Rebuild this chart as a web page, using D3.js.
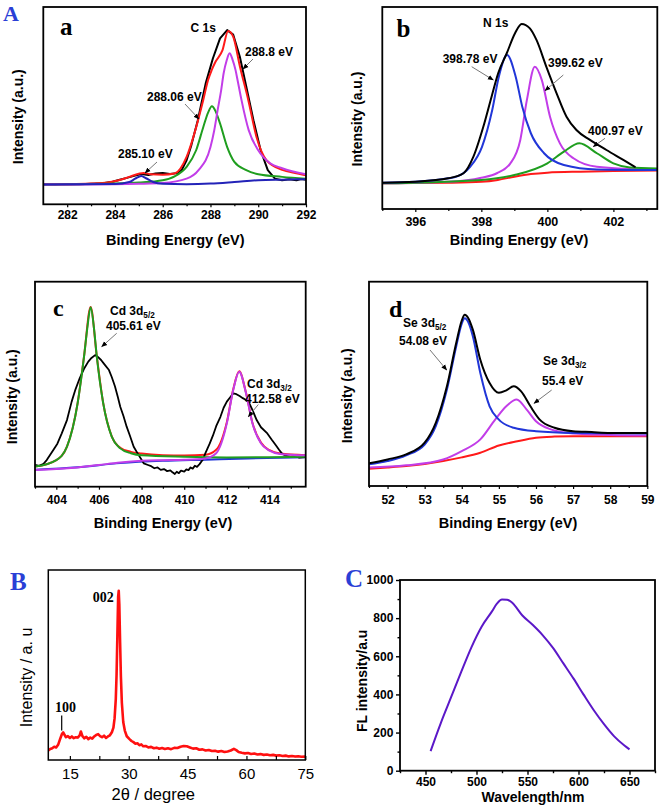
<!DOCTYPE html>
<html><head><meta charset="utf-8">
<script src="https://cdn.jsdelivr.net/npm/d3@7"></script>
<style>body{margin:0;background:#fff}</style>
</head><body>
<svg id="fig" width="661" height="807"></svg>
<script>
// ---------------- DATA ----------------
// Panel a: C 1s
const aBlack = [[281,10.2],[281.5,10.0],[282,10.3],[282.5,10.1],[283,10.4],[283.5,10.7],[283.9,11.4],[284.2,12.4],[284.5,13.4],[284.8,14.4],[285.1,15.4],[285.4,14.9],[285.7,15.6],[286.0,15.9],[286.3,15.4],[286.6,15.8],[286.8,17.5],[287.0,22.3],[287.2,30],[287.47,42.6],[287.8,61.3],[288.1,73.9],[288.4,84.1],[288.7,88.3],[288.95,86],[289.23,74.8],[289.5,59.6],[289.8,42.6],[290.1,27.4],[290.4,17.3],[290.7,13],[291,12.2],[291.3,12.7],[291.6,12.2],[291.8,12.8],[292,12.5]];
const aRed = [[281,10.1],[282,10.2],[283,10.5],[283.7,11.0],[284.2,12.3],[284.6,13.9],[285.0,15.5],[285.2,15.9],[285.5,15.2],[286,15.0],[286.5,15.6],[287,24],[287.4,39],[287.7,53],[287.9,63],[288.05,68],[288.2,72],[288.5,78],[288.74,87.8],[288.95,85],[289.23,70],[289.58,53],[289.93,34],[290.35,22.3],[291.04,17.3],[291.5,16],[292,14.7]];
const aPurple = [[281,10],[284,10.2],[285,10.4],[286,10.8],[287,13],[287.5,17.3],[288,29],[288.15,37],[288.3,47.7],[288.45,58],[288.55,66.3],[288.68,73],[288.8,76.5],[288.92,73.5],[289.05,68],[289.15,62],[289.3,52.8],[289.6,37.6],[290,27.4],[290.5,20.8],[291,18.3],[292,15.2]];
const aGreen = [[281,10],[284,10.5],[285,11],[286,12.2],[286.5,14.2],[287,19],[287.4,27.4],[287.7,39.2],[287.9,46.5],[288.06,49.7],[288.22,47],[288.4,41],[288.7,29],[289,21.5],[289.5,17.3],[290,15.2],[291,13.9],[292,13]];
const aBlue = [[281,10],[284,10.3],[284.6,11.3],[284.85,13],[285.1,14.4],[285.3,13.2],[285.6,11.3],[286,10.4],[287,10.2],[288,10.5],[289,11.3],[290,12.2],[291,12.5],[292,12.7]];
const aTicks = [282,284,286,288,290,292];
const aMinor = [283,285,287,289,291];

// Panel b: N 1s
const bBlack = [[395,13],[396,13.5],[397,15.2],[397.46,17.7],[397.76,25.9],[398.06,40.7],[398.31,55.6],[398.51,67.2],[398.77,77.1],[399.02,87],[399.22,91.6],[399.47,89.4],[399.67,83.7],[399.97,70.4],[400.28,57.3],[400.58,45.7],[400.88,39.1],[401.29,34.2],[401.79,29.2],[402.3,24.3],[402.65,20.9]];
const bBlue = [[395,13],[396,13.5],[397,15.2],[397.25,16],[397.66,20.9],[398.02,30.8],[398.33,49],[398.53,65.5],[398.78,76.2],[399.04,65.5],[399.24,50.6],[399.5,37.5],[399.9,27.6],[400.5,21.8],[401.5,19.6],[403.33,19.3]];
const bMagenta = [[395,12.7],[397,13.5],[398,15.5],[398.47,17.7],[398.88,22.6],[399.18,34.2],[399.38,54],[399.62,70.4],[399.83,63.9],[400.08,45.7],[400.38,32.5],[400.79,25.1],[401.5,20.9],[403.33,19.3]];
const bGreen = [[395,12.7],[398,14.4],[399,16.8],[400,22.6],[400.5,28.4],[400.97,32.5],[401.5,27.6],[402,22.6],[402.5,20.6],[403.33,20.1]];
const bRed = [[395,12.7],[397,13],[398,13.5],[398.5,14.4],[399,16],[399.5,17.3],[400,18],[401,18.5],[402,18.8],[403.33,19]];
const bTicks = [396,398,400,402];
const bMinor = [395,397,399,401,403];

// Panel c: Cd 3d
const cBlack = [[403,10.6],[403.2,10.2],[403.4,11.2],[403.55,13],[403.86,17.9],[404.05,21],[404.25,25.9],[404.5,32.5],[404.72,41.5],[404.9,47.5],[405.1,53],[405.3,57.5],[405.5,61],[405.65,62.8],[405.82,64.2],[405.95,63.3],[406.1,61.8],[406.25,59.8],[406.47,56.9],[406.6,53.5],[406.75,49],[406.88,44],[407,39],[407.15,34.5],[407.3,29.3],[407.45,25],[407.63,19.5],[407.8,16.5],[408.1,11.4],[408.3,10.6],[408.45,10],[408.6,9],[408.75,9.4],[408.9,8.2],[409.05,8.6],[409.2,7.6],[409.35,8],[409.45,7],[409.56,6.2],[409.65,7.3],[409.75,6.6],[409.85,7.8],[410.0,7.4],[410.1,8.4],[410.2,8.1],[410.3,9.4],[410.4,8.8],[410.5,10.2],[410.6,9.7],[410.72,11],[410.86,13],[411.0,16.5],[411.2,21.1],[411.35,25],[411.5,29.5],[411.7,34.1],[411.85,38.5],[412.0,41.5],[412.15,43.5],[412.3,45.5],[412.45,45.1],[412.6,44.2],[412.75,43.2],[412.9,42.3],[413.05,40.8],[413.2,37.5],[413.4,32.5],[413.6,29],[413.9,26],[414.1,23],[414.3,20.2],[414.45,18],[414.6,16],[414.8,15],[415,14.6],[415.2,14.9],[415.4,14.2],[415.7,14.4]];
const cBlue = [[403,8.3],[405,9.5],[407,11.5],[409,12.6],[411,13.2],[413,13.8],[415.7,14.4]];
const cRed = [[403,9.8],[404,13],[404.5,19.6],[405,40.8],[405.3,63.5],[405.61,87.6],[405.9,63.5],[406.2,40.8],[406.6,24.6],[407,19],[407.5,17],[408,16.2],[409,15.4],[410,15.2],[411,15.6],[411.5,18],[412,31.5],[412.3,47.5],[412.58,56.3],[412.9,45.8],[413.2,31.2],[413.6,21.5],[414,17.8],[414.5,16.2],[415.7,15.4]];
const cGreen = [[403,9.8],[404,13],[404.5,19.5],[405,40.7],[405.3,63.4],[405.45,77],[405.61,87.5],[405.77,77],[405.9,63.4],[406.2,40.7],[406.6,24.4],[407,18.7],[407.5,16.3],[408,15.3],[410,14.6],[412,14.3],[414,14.4],[415.7,14.6]];
const cMagenta = [[403,8.1],[404,8.6],[405,9.4],[406,10.6],[407,11.8],[408,12.6],[409,12.9],[410,13.1],[411,13.8],[411.5,16.3],[412,30.9],[412.3,47.2],[412.58,56.1],[412.9,45.6],[413.2,30.9],[413.6,21.2],[414,17.6],[414.5,16],[415.7,15.3]];
const cTicks = [404,406,408,410,412,414];
const cMinor = [403,405,407,409,411,413,415];

// Panel d: Se 3d
const dBlack = [[51.5,11.1],[52,13],[52.5,15.5],[53,21.2],[53.3,30.9],[53.6,48.8],[53.85,70],[54.0,81],[54.08,83.8],[54.18,82],[54.3,76.4],[54.5,61.8],[54.75,50.4],[55,45.6],[55.2,46.8],[55.4,48.8],[55.6,46.3],[55.85,39],[56.1,32.5],[56.5,28.5],[57,26.8],[57.5,26.4],[58,26],[59,26]];
const dBlue = [[51.5,10.6],[52,12.2],[52.5,15],[53,20.3],[53.3,29.3],[53.6,47.2],[53.85,68.3],[54.0,79.5],[54.08,82.1],[54.18,80],[54.3,73.2],[54.5,55.3],[54.75,39],[55,32.5],[55.4,28.5],[56,26.8],[57,26],[59,25.7]];
const dMagenta = [[51.5,9],[52.5,10.1],[53.5,13],[54,17.1],[54.5,22.8],[54.9,32.5],[55.2,39],[55.48,42.3],[55.75,37.4],[56,31.7],[56.4,27.7],[57,25.7],[58,25],[59,24.7]];
const dRed = [[51.5,8.5],[52,9.1],[52.5,9.8],[53,10.8],[53.5,12.2],[54,14],[54.5,16.3],[55,19.8],[55.5,21.9],[56,23.6],[56.5,24.2],[57,24.4],[58,24.4],[59,24.4]];
const dTicks = [52,53,54,55,56,57,58,59];
const dMinor = [51.5,52.5,53.5,54.5,55.5,56.5,57.5,58.5];

// Panel B: XRD
const xrd = [[9.5,5.0],[10,5.8],[10.5,6.2],[11,7.0],[11.5,6.6],[12,8.0],[12.5,11.0],[13,13.8],[13.3,14.5],[13.7,13.0],[14,12.0],[14.5,12.6],[15,11.6],[15.5,12.4],[16,11.5],[16.5,12.0],[17,11.8],[17.5,13.0],[17.8,15.0],[18.2,12.6],[18.7,11.4],[19.2,12.2],[19.7,11.0],[20.2,11.8],[20.7,11.2],[21.2,12.4],[21.7,13.2],[22.2,13.6],[22.7,12.6],[23.2,12.0],[23.7,12.8],[24.2,11.6],[24.7,12.4],[25.2,13.0],[25.7,14.6],[26.1,17],[26.4,22],[26.7,32],[26.9,45],[27.1,65],[27.3,86],[27.45,89],[27.6,82],[27.8,62],[28.0,44],[28.25,30],[28.6,20],[29.0,15.5],[29.5,12.5],[30.2,11],[30.7,10],[31.2,9.4],[31.7,8.6],[32.2,8.8],[32.7,7.8],[33.2,8.2],[33.7,7.2],[34.3,7.4],[35,6.6],[35.7,6.9],[36.4,6.2],[37.1,6.5],[37.8,5.9],[38.5,6.3],[39.2,5.8],[40,6.2],[40.8,5.7],[41.6,6.4],[42.4,6.3],[43.2,7.0],[44,7.4],[44.8,7.2],[45.6,6.6],[46.4,6.0],[47.2,6.2],[48,5.4],[48.8,5.6],[49.6,5.0],[50.4,5.3],[51.2,4.7],[52,4.9],[52.8,4.4],[53.6,4.7],[54.4,4.2],[55.2,4.5],[56,5.0],[56.8,5.9],[57.4,5.2],[58,4.2],[58.8,3.8],[59.6,3.5],[60.4,3.7],[61.2,3.2],[62,3.4],[62.8,2.9],[63.6,3.1],[64.4,2.7],[65.2,2.9],[66,2.5],[66.8,2.7],[67.6,2.3],[68.4,2.5],[69.2,2.1],[70,2.3],[70.8,1.9],[71.6,2.1],[72.4,1.8],[73.2,2.0],[74,1.7],[75,1.8]];
const xrdTicks = [15,30,45,60,75];
const xrdMinor = [22.5,37.5,52.5,67.5];

// Panel C: fluorescence
const flWave = [455,465,475,485,495,505,515,520,525,530,535,545,555,565,575,585,595,605,615,625,635,645,650];
const flValue = [103,250,384,518,647,755,834,876,898,897,881,814,765,710,644,564,484,399,317,244,180,132,112];
const flXTicks = [450,500,550,600,650];
const flXMinor = [425,475,525,575,625,675];
const flYTicks = [0,200,400,600,800,1000];
const flYMinor = [100,300,500,700,900];

// ---------------- DRAWING ----------------
const SANS = '"Liberation Sans", Arial, Helvetica, sans-serif';
const SERIF = '"Liberation Serif", "Times New Roman", serif';
const svg = d3.select('#fig');
const defs = svg.append('defs');
defs.append('marker').attr('id','ah').attr('viewBox','0 0 10 10').attr('refX',9).attr('refY',5)
  .attr('markerWidth',6).attr('markerHeight',6).attr('markerUnits','userSpaceOnUse').attr('orient','auto')
  .append('path').attr('d','M0,1 L10,5 L0,9 z').attr('fill','#000');

const COL = {black:'#000', red:'#ff1a1a', green:'#1f9e1f', magenta:'#c23de8', blue:'#2136d8', navy:'#2323b8'};

function panel(cfg){
  const x = d3.scaleLinear().domain(cfg.xd).range([cfg.l,cfg.r]);
  const y = d3.scaleLinear().domain(cfg.yd).range([cfg.b,cfg.t]);
  const id = 'clip_'+cfg.id;
  defs.append('clipPath').attr('id',id).append('rect')
    .attr('x',cfg.l).attr('y',cfg.t).attr('width',cfg.r-cfg.l).attr('height',cfg.b-cfg.t);
  const plot = svg.append('g').attr('clip-path',`url(#${id})`);
  cfg.series.forEach(s=>{
    plot.append('path').datum(s.data)
      .attr('d', d3.line().x(d=>x(d[0])).y(d=>y(d[1])).curve(s.curve||d3.curveMonotoneX))
      .attr('fill','none').attr('stroke',s.color).attr('stroke-width',s.w||2)
      .attr('stroke-linejoin','round').attr('stroke-linecap','round');
  });
  const gm = svg.append('g').attr('transform',`translate(0,${cfg.b})`)
    .call(d3.axisBottom(x).tickValues(cfg.minor).tickSize(cfg.minSize).tickFormat(''));
  gm.select('.domain').remove();
  gm.selectAll('line').attr('stroke','#000').attr('stroke-width',1.2);
  const ga = svg.append('g').attr('transform',`translate(0,${cfg.b})`)
    .call(d3.axisBottom(x).tickValues(cfg.major).tickSize(cfg.majSize).tickPadding(cfg.pad).tickFormat(d3.format('d')));
  ga.select('.domain').remove();
  ga.selectAll('line').attr('stroke','#000').attr('stroke-width',1.2);
  ga.selectAll('text').attr('font-family',SANS).attr('font-size',cfg.tickFont)
    .attr('font-weight',cfg.tickWeight).attr('fill','#000');
  svg.append('rect').attr('x',cfg.l).attr('y',cfg.t).attr('width',cfg.r-cfg.l).attr('height',cfg.b-cfg.t)
    .attr('fill','none').attr('stroke','#000').attr('stroke-width',cfg.frameW||1.8);
  return {x,y};
}

function text(x,y,s,o={}){
  return svg.append('text').attr('x',x).attr('y',y).text(s)
    .attr('font-family',o.family||SANS).attr('font-size',o.size||12)
    .attr('font-weight',o.weight||'bold').attr('fill',o.fill||'#000')
    .attr('text-anchor',o.anchor||'start');
}
function subText(x,y,main,sub,size){
  const t = svg.append('text').attr('x',x).attr('y',y).attr('font-family',SANS)
    .attr('font-size',size).attr('font-weight','bold').attr('fill','#000');
  t.append('tspan').text(main);
  t.append('tspan').attr('font-size',size*0.68).attr('dy',3).text(sub);
}
function yLabel(cx,cy,s,o={}){
  svg.append('text').attr('transform',`translate(${cx},${cy}) rotate(-90)`)
    .attr('text-anchor','middle').attr('dy','0.35em').text(s)
    .attr('font-family',SANS).attr('font-size',o.size||14)
    .attr('font-weight',o.weight||'bold').attr('fill','#000');
}
function arrow(x1,y1,x2,y2){
  svg.append('line').attr('x1',x1).attr('y1',y1).attr('x2',x2).attr('y2',y2)
    .attr('stroke','#777').attr('stroke-width',1).attr('marker-end','url(#ah)');
}

// Panel a
panel({id:'a', l:43.3, r:306, t:7, b:204.3, xd:[281,292], yd:[0,100],
  major:aTicks, minor:aMinor, majSize:3, minSize:2, pad:3.5, tickFont:12, tickWeight:'bold',
  series:[
    {data:aBlack, color:COL.black, curve:d3.curveLinear},
    {data:aRed, color:COL.red},
    {data:aGreen, color:COL.green},
    {data:aPurple, color:COL.magenta},
    {data:aBlue, color:COL.navy}
  ]});
yLabel(18.3,116.7,'Intensity (a.u.)');
text(175.3,245,'Binding Energy (eV)',{size:14.5,anchor:'middle'});
text(60,35,'a',{family:SERIF,size:25});
text(190.5,31.5,'C 1s',{size:12});
text(245,56,'288.8 eV',{size:12});
text(147,101,'288.06 eV',{size:12});
text(118,158,'285.10 eV',{size:12});
arrow(253,59,243,69);
arrow(185,104,199,119);
arrow(157,162,145,173);

// Panel b
panel({id:'b', l:382.3, r:657.3, t:7, b:209, xd:[395,403.33], yd:[0,100],
  major:bTicks, minor:bMinor, majSize:3, minSize:2, pad:5.5, tickFont:12.5, tickWeight:'bold',
  series:[
    {data:bRed, color:COL.red},
    {data:bMagenta, color:COL.magenta},
    {data:bGreen, color:COL.green},
    {data:bBlue, color:COL.blue},
    {data:bBlack, color:COL.black}
  ]});
yLabel(356.7,119,'Intensity (a.u.)');
text(519,245,'Binding Energy (eV)',{size:14.5,anchor:'middle'});
text(396.5,36.5,'b',{family:SERIF,size:25});
text(483,26.5,'N 1s',{size:12});
text(442.7,62.5,'398.78 eV',{size:12});
text(548,66.5,'399.62 eV',{size:12});
text(588,134.5,'400.97 eV',{size:12});
arrow(471.7,66.7,493.3,80);
arrow(563.3,75,545,90.7);
arrow(605,138.3,593.3,146.7);

// Panel c
panel({id:'c', l:35, r:305.7, t:281.7, b:486.7, xd:[403,415.7], yd:[0,100],
  major:cTicks, minor:cMinor, majSize:3, minSize:2, pad:6, tickFont:12, tickWeight:'bold',
  series:[
    {data:cBlue, color:COL.blue},
    {data:cRed, color:COL.red},
    {data:cBlack, color:COL.black, curve:d3.curveLinear, w:1.8},
    {data:cGreen, color:COL.green},
    {data:cMagenta, color:COL.magenta}
  ]});
yLabel(12.3,396.7,'Intensity (a.u.)');
text(163,528,'Binding Energy (eV)',{size:14.5,anchor:'middle'});
text(53,316,'c',{family:SERIF,size:24});
subText(110,315,'Cd 3d','5/2',12);
text(106,329.5,'405.61 eV',{size:12});
subText(247,387.5,'Cd 3d','3/2',12);
text(245,403,'412.58 eV',{size:12});
arrow(116.7,333.3,101.7,346.7);
arrow(258.3,404.5,248.3,416.7);

// Panel d
panel({id:'d', l:369, r:647.3, t:281.7, b:486, xd:[51.5,59], yd:[0,100],
  major:dTicks, minor:dMinor, majSize:3, minSize:2, pad:6, tickFont:12, tickWeight:'bold',
  series:[
    {data:dRed, color:COL.red},
    {data:dMagenta, color:COL.magenta},
    {data:dBlue, color:COL.blue},
    {data:dBlack, color:COL.black}
  ]});
yLabel(346.7,395.7,'Intensity (a.u.)');
text(508,528,'Binding Energy (eV)',{size:14.5,anchor:'middle'});
text(389,317,'d',{family:SERIF,size:24});
subText(403,326.5,'Se 3d','5/2',12);
text(399,345,'54.08 eV',{size:12});
subText(543,365,'Se 3d','3/2',12);
text(542,385,'55.4 eV',{size:12});
arrow(430,350,446.7,370);
arrow(551.7,390,534,403.3);

// Big label A
text(3,21,'A',{family:SERIF,size:22,fill:'#2a3fd6'});

// Panel B
panel({id:'B', l:48.3, r:305.3, t:570, b:760, xd:[9.5,75], yd:[0,100],
  major:xrdTicks, minor:xrdMinor, majSize:-4, minSize:-4, pad:8.5, tickFont:15, tickWeight:'normal', frameW:1.5,
  series:[{data:xrd, color:'#ff1010', curve:d3.curveLinear, w:2.6}]});
svg.append('text').attr('transform','translate(26.7,677.5) rotate(-90)').attr('text-anchor','middle').attr('dy','0.35em')
  .attr('font-family',SANS).attr('font-size',16).attr('fill','#000').text('Intensity / a. u');
text(153.3,800,'2θ / degree',{size:16.5,weight:'normal',anchor:'middle'});
text(10,590,'B',{family:SERIF,size:25,fill:'#2a3fd6'});
text(92.7,601.5,'002',{family:SERIF,size:14});
text(55,711.5,'100',{family:SERIF,size:14});
svg.append('line').attr('x1',61.7).attr('x2',61.7).attr('y1',715.5).attr('y2',730.5).attr('stroke','#000').attr('stroke-width',1.2);

// Panel C
{
  const l=400, r=655, t=580, b=770.7;
  const x = d3.scaleLinear().domain([425,675]).range([l,r]);
  const y = d3.scaleLinear().domain([0,1000]).range([b,t]);
  const fl = flWave.map((w,i)=>[w,flValue[i]]);
  svg.append('path').datum(fl)
    .attr('d', d3.line().x(d=>x(d[0])).y(d=>y(d[1])).curve(d3.curveMonotoneX))
    .attr('fill','none').attr('stroke','#5b18c8').attr('stroke-width',2);
  const gxm = svg.append('g').attr('transform',`translate(0,${b})`)
    .call(d3.axisBottom(x).tickValues(flXMinor).tickSize(2.5).tickFormat(''));
  gxm.select('.domain').remove();
  const gx = svg.append('g').attr('transform',`translate(0,${b})`)
    .call(d3.axisBottom(x).tickValues(flXTicks).tickSize(4).tickPadding(2.3).tickFormat(d3.format('d')));
  gx.select('.domain').remove();
  const gym = svg.append('g').attr('transform',`translate(${l},0)`)
    .call(d3.axisLeft(y).tickValues(flYMinor).tickSize(2.5).tickFormat(''));
  gym.select('.domain').remove();
  const gy = svg.append('g').attr('transform',`translate(${l},0)`)
    .call(d3.axisLeft(y).tickValues(flYTicks).tickSize(4).tickPadding(2.7).tickFormat(d3.format('d')));
  gy.select('.domain').remove();
  [gx,gy,gxm,gym].forEach(g=>g.selectAll('line').attr('stroke','#000').attr('stroke-width',1.4));
  [gx,gy].forEach(g=>g.selectAll('text').attr('font-family',SANS).attr('font-size',12).attr('font-weight','bold').attr('fill','#000'));
  svg.append('rect').attr('x',l).attr('y',t).attr('width',r-l).attr('height',b-t)
    .attr('fill','none').attr('stroke','#000').attr('stroke-width',1.8);
  yLabel(361.7,680.8,'FL intensity/a.u',{size:14});
  text(533,801.5,'Wavelength/nm',{size:14,anchor:'middle'});
  text(345,587,'C',{family:SERIF,size:25,fill:'#2a3fd6'});
}
</script>
</body></html>
